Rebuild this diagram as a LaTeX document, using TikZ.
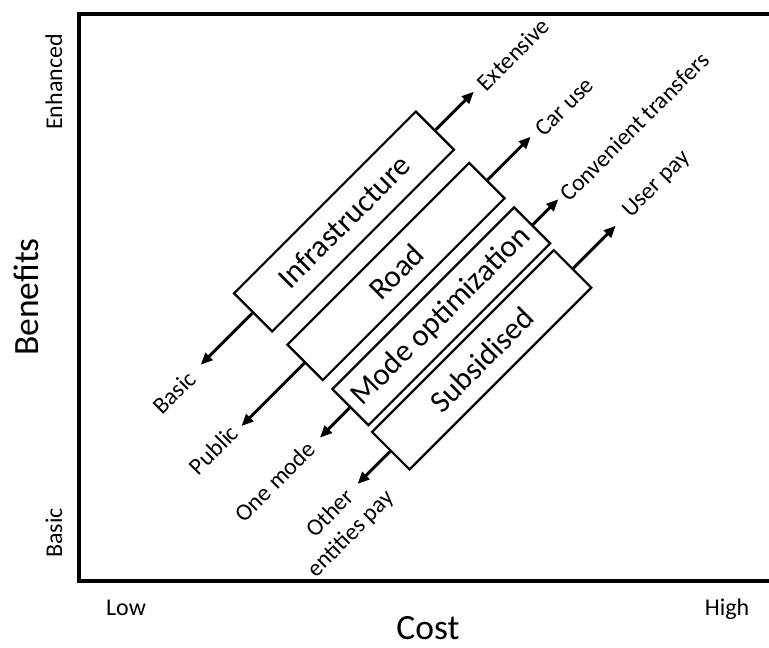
\documentclass[tikz,border=0pt]{standalone}
\usepackage{fontspec}
\setmainfont{Carlito}
\usetikzlibrary{arrows.meta,calc}
\begin{document}
\begin{tikzpicture}[x=1pt,y=-1pt,
  band/.style={draw,line width=2.2pt,rotate=45,minimum width=257pt,inner sep=0pt,
    font=\fontsize{31}{37}\selectfont},
  lbl/.style={rotate=45,inner sep=0pt,font=\fontsize{23.8}{29}\selectfont},
  axlbl/.style={inner sep=0pt,font=\fontsize{24}{29}\selectfont},
  axtitle/.style={inner sep=0pt,font=\fontsize{35.5}{42}\selectfont},
  ray/.style={line width=3pt,-{Triangle[length=12pt,width=10pt]}},
]
\useasboundingbox (0,0) rectangle (769,648);

% plot frame (open to the right)
\draw[line width=3.5pt] (769,14) -- (79,14) -- (79,581) -- (769,581);

% axis annotations
\node[axtitle,rotate=90,anchor=base] (benefits) at (38,297) {Benefits};
\node[axlbl,rotate=90,anchor=base] (enh) at (62,82) {Enhanced};
\node[axlbl,rotate=90,anchor=base] (basicAx) at (62,533) {Basic};
\node[axlbl,anchor=base] (low) at (126,615) {Low};
\node[axlbl,anchor=base] (high) at (727,615) {High};
\node[axtitle,anchor=base] (cost) at (428,639) {Cost};

% diagonal bands
\node[band,minimum height=54pt] (infra) at (344,221.5) {Infrastructure};
\node[band,minimum height=50pt] (road) at (396,271.5) {Road};
\node[band,minimum height=51pt] (mode) at (441.3,316.3) {Mode optimization};
\node[band,minimum height=53pt] (subs) at (481.7,359.8) {Subsidised};

% arrow ends
\coordinate (infraHi) at ($(infra.east)+(45:54pt)$);
\coordinate (infraLo) at ($(infra.west)+(225:73pt)$);
\coordinate (roadHi) at ($(road.east)+(45:61pt)$);
\coordinate (roadLo) at ($(road.west)+(225:89pt)$);
\coordinate (modeHi) at ($(mode.east)+(45:36pt)$);
\coordinate (modeLo) at ($(mode.west)+(225:42pt)$);
\coordinate (subsHi) at ($(subs.east)+(45:60pt)$);
\coordinate (subsLo) at ($(subs.west)+(225:46pt)$);

\draw[ray] (infra.east) -- (infraHi);
\draw[ray] (infra.west) -- (infraLo);
\draw[ray] (road.east) -- (roadHi);
\draw[ray] (road.west) -- (roadLo);
\draw[ray] (mode.east) -- (modeHi);
\draw[ray] (mode.west) -- (modeLo);
\draw[ray] (subs.east) -- (subsHi);
\draw[ray] (subs.west) -- (subsLo);

% end labels
\node[lbl,anchor=base] (lExt) at (519,60) {Extensive};
\node[lbl,anchor=base] (lCar) at (569.8,111.9) {Car use};
\node[lbl,anchor=base] (lConv) at (640,132.3) {Convenient transfers};
\node[lbl,anchor=base] (lUser) at (661,188.6) {User pay};
\node[lbl,anchor=base] (lBasic) at (180,398.4) {Basic};
\node[lbl,anchor=base] (lPub) at (219.4,455.6) {Public};
\node[lbl,anchor=base] (lOne) at (280.7,487.3) {One mode};
\node[lbl,align=center,anchor=center] (lOther) at (341,524) {Other\\entities pay};
\end{tikzpicture}
\end{document}
